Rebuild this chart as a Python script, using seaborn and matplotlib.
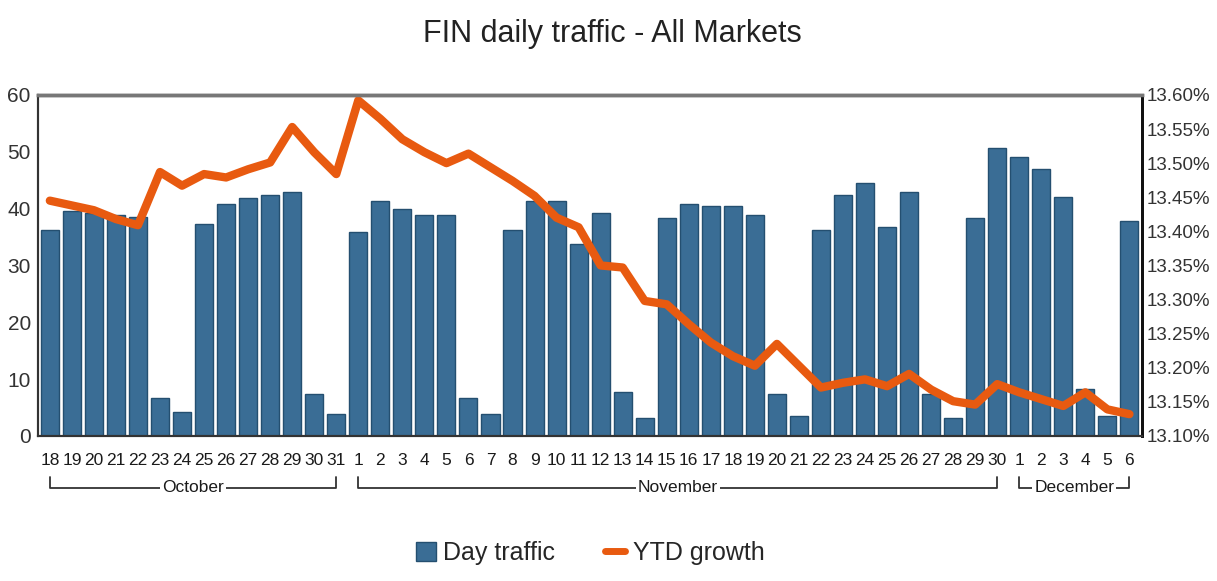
import numpy as np
import pandas as pd
import seaborn as sns
import matplotlib
matplotlib.use("Agg")
import matplotlib.pyplot as plt
from matplotlib.patches import Patch
from matplotlib.lines import Line2D
from matplotlib.ticker import FuncFormatter, MultipleLocator
from matplotlib import font_manager as fm

# ---------------- data ----------------
months = ["October", "November", "December"]
oct_days = list(range(18, 32))
nov_days = list(range(1, 31))
dec_days = list(range(1, 7))

traffic_oct = [36.2, 39.5, 39.3, 38.9, 38.5, 6.75, 4.2, 37.3, 40.8, 41.9, 42.4, 42.9, 7.3, 3.8]
traffic_nov = [35.8, 41.4, 39.9, 38.9, 38.9, 6.75, 3.8, 36.2, 41.4, 41.4,
               33.8, 39.3, 7.75, 3.1, 38.3, 40.8, 40.4, 40.4, 38.9, 7.3,
               3.6, 36.2, 42.4, 44.5, 36.8, 42.9, 7.3, 3.1, 38.3, 50.6]
traffic_dec = [49.0, 47.0, 42.0, 8.2, 3.6, 37.9]

ytd_oct = [13.445, 13.438, 13.431, 13.418, 13.409, 13.487, 13.467, 13.484, 13.479, 13.491,
           13.501, 13.553, 13.516, 13.484]
ytd_nov = [13.592, 13.565, 13.535, 13.516, 13.500, 13.514, 13.494, 13.474, 13.452, 13.420,
           13.406, 13.350, 13.347, 13.298, 13.293, 13.264, 13.237, 13.217, 13.203, 13.235,
           13.203, 13.171, 13.178, 13.183, 13.173, 13.191, 13.168, 13.151, 13.146, 13.176]
ytd_dec = [13.164, 13.154, 13.144, 13.164, 13.139, 13.132]

day_labels = [str(d) for d in oct_days + nov_days + dec_days]
month_sizes = [len(oct_days), len(nov_days), len(dec_days)]
traffic = traffic_oct + traffic_nov + traffic_dec
ytd = ytd_oct + ytd_nov + ytd_dec

df = pd.DataFrame({"pos": np.arange(len(traffic)), "traffic": traffic, "ytd": ytd})

# ---------------- style ----------------
sns.set_style("white")
names = {f.name for f in fm.fontManager.ttflist}
narrow = "Liberation Sans Narrow" if "Liberation Sans Narrow" in names else "Liberation Sans"
plt.rcParams["font.family"] = ["Liberation Sans", "DejaVu Sans"]

BAR = "#3a6d95"
BAR_EDGE = "#244f70"
LINE = "#e85a10"

fig = plt.figure(figsize=(12.17, 5.81), dpi=100)
ax = fig.add_axes([0.031, 0.2496, 0.907, 0.587])

sns.barplot(data=df, x="pos", y="traffic", ax=ax, color=BAR, width=0.82,
            edgecolor=BAR_EDGE, linewidth=1.0, saturation=1)
ax.set_xlim(-0.55, len(traffic) - 0.45)
ax.set_ylim(0, 60)
ax.yaxis.set_major_locator(MultipleLocator(10))
ax.set_xlabel("")
ax.set_ylabel("")
ax.set_xticks(np.arange(len(traffic)))
ax.set_xticklabels(day_labels, family=[narrow, "DejaVu Sans"], fontsize=12.5, color="#1a1a1a")
ax.tick_params(axis="x", length=0, pad=12)
ax.tick_params(axis="y", length=0, pad=5, labelsize=15, labelcolor="#333333")

ax2 = ax.twinx()
sns.lineplot(data=df, x="pos", y="ytd", ax=ax2, color=LINE, linewidth=6,
             solid_capstyle="round", solid_joinstyle="round")
ax2.set_ylim(13.10, 13.60)
ax2.yaxis.set_major_locator(MultipleLocator(0.05))
ax2.yaxis.set_major_formatter(FuncFormatter(lambda v, p: f"{v:.2f}%"))
ax2.set_ylabel("")
ax2.tick_params(axis="y", length=0, pad=4, labelsize=13.5, labelcolor="#333333")
ax2.set_xlim(ax.get_xlim())

for a in (ax, ax2):
    a.spines["top"].set_color("#777777")
    a.spines["top"].set_linewidth(2.5)
    a.spines["right"].set_color("#111111")
    a.spines["right"].set_linewidth(2)
    a.spines["left"].set_color("#333333")
    a.spines["left"].set_linewidth(1.5)
    a.spines["bottom"].set_color("#333333")
    a.spines["bottom"].set_linewidth(1.5)

# month brackets
trans = ax.get_xaxis_transform()
start = 0
for name, n in zip(months, month_sizes):
    x0, x1 = start, start + n - 1
    yb, yt = -0.152, -0.12
    ax.plot([x0, x0, x1, x1], [yt, yb, yb, yt], transform=trans, clip_on=False,
            color="#333333", linewidth=1.3)
    ax.text((x0 + x1) / 2, yb, name, transform=trans, ha="center", va="center",
            fontsize=12.5, family=[narrow, "DejaVu Sans"], color="#1a1a1a",
            bbox=dict(facecolor="white", edgecolor="none", pad=1.5))
    start += n

fig.suptitle("FIN daily traffic - All Markets", x=0.503, y=0.968, fontsize=22,
             color="#222222")

handles = [Patch(facecolor=BAR, edgecolor=BAR_EDGE),
           Line2D([0], [0], color=LINE, linewidth=5)]
fig.legend(handles, ["Day traffic", "YTD growth"], loc="center", bbox_to_anchor=(0.485, 0.048),
           ncol=2, frameon=False, fontsize=18, handlelength=0.8, handleheight=0.8,
           handletextpad=0.3, columnspacing=2.0)

fig.savefig("out.png", dpi=100)
